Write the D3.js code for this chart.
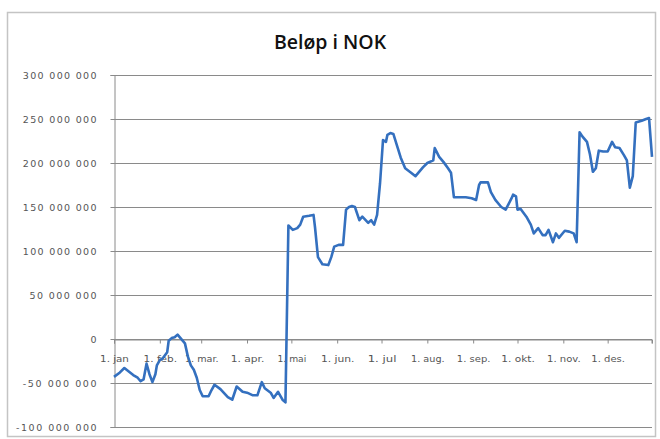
<!DOCTYPE html>
<html><head><meta charset="utf-8">
<script src="https://cdn.jsdelivr.net/npm/d3@7"></script>
<style>html,body{margin:0;padding:0;background:#fff}</style>
</head><body>
<svg id="chart" width="660" height="439"></svg>
<script>
const title = "Beløp i NOK";
const dates = ["01-01","01-05","01-08","01-11","01-14","01-17","01-19","01-21","01-23","01-25","01-27","01-29","01-30",
"02-01","02-03","02-06","02-07","02-09","02-11","02-13","02-16","02-18","02-20","02-22","02-24","02-26","02-28",
"03-02","03-06","03-08","03-10","03-14","03-19","03-22","03-25","03-29",
"04-01","04-05","04-08","04-11","04-13","04-17","04-19","04-22","04-25","04-27","04-29",
"05-02","05-05","05-07","05-09","05-13","05-16","05-17","05-19","05-22","05-26","05-28","05-30",
"06-02","06-05","06-07","06-09","06-11","06-13","06-16","06-18","06-22","06-24","06-26","06-28","06-30",
"07-02","07-04","07-05","07-07","07-09","07-12","07-14","07-17","07-21","07-24","07-26","07-29",
"08-01","08-05","08-06","08-09","08-12","08-15","08-17","08-19","08-24","08-27","08-31",
"09-03","09-05","09-06","09-11","09-13","09-16","09-20","09-23","09-27","09-28","09-30",
"10-01","10-03","10-07","10-10","10-12","10-15","10-18","10-20","10-22","10-25","10-27","10-29",
"11-02","11-05","11-08","11-10","11-12","11-14","11-17","11-19","11-21","11-23","11-25","11-28",
"12-01","12-04","12-06","12-09","12-12","12-14","12-16","12-18","12-20","12-24","12-27","12-29","12-31"];
// values in millions NOK
const values = [-43,-38,-33,-37,-41,-44,-48,-46,-28,-40,-49,-40,-30,
-24,-22,-15,-2,1,2,5,-1,-5,-20,-30,-35,-44,-58,
-65,-65,-58,-52,-57,-66,-69,-54,-60,
-61,-64,-64,-49,-56,-61,-67,-60,-69,-72,129,
124,126,130,139,140,141,127,93,85,84,93,105,
107,107,147,150,151,150,135,139,132,135,130,141,177,
226,224,232,234,233,217,206,194,189,185,189,195,
200,203,217,207,201,194,189,161,161,161,160,
158,175,178,178,167,158,150,147,160,164,162,
147,148,139,130,120,126,118,118,124,110,120,115,
123,122,120,110,235,230,224,210,190,194,214,213,
213,224,218,217,209,203,172,185,246,248,250,251,207];
const yTicks = [-100,-50,0,50,100,150,200,250,300];
const monthLabels = ["1. jan","1. feb.","1. mar.","1. apr.","1. mai","1. jun.","1. jul","1. aug.","1. sep.","1. okt.","1. nov.","1. des."];
const year = 2010;

const svg = d3.select("#chart");
const parse = d3.timeParse("%Y-%m-%d");
const data = dates.map((d,i)=>({date: parse(year+"-"+d), v: values[i]}));

const x = d3.scaleTime().domain([new Date(year,0,1), new Date(year,11,31)]).range([114,652]);
const y = d3.scaleLinear().domain([-100,300]).range([427,75]);

const loc = d3.formatLocale({decimal:",", thousands:"\u00a0", grouping:[3], currency:["",""], minus:"-"});
const fmt = loc.format(",.0f");

// chart border
svg.append("rect").attr("x",7.5).attr("y",12.5).attr("width",648).attr("height",424)
  .attr("fill","#fff").attr("stroke","#c4c4c4").attr("stroke-width",1.5);

// title
svg.append("text").attr("x",330).attr("y",49).attr("text-anchor","middle")
  .attr("font-family","'Open Sans', sans-serif").attr("font-weight",600).attr("font-size",19.5)
  .attr("fill","#111").text(title);

// gridlines
svg.append("g").selectAll("line").data(yTicks).join("line")
  .attr("x1",114).attr("x2",652).attr("y1",d=>Math.round(y(d))+0.5).attr("y2",d=>Math.round(y(d))+0.5)
  .attr("stroke","#8a8a8a").attr("stroke-width",1);

// y axis
const yAxis = d3.axisLeft(y).tickValues(yTicks).tickSize(4).tickPadding(14).tickFormat(d=>fmt(d*1e6));
const gy = svg.append("g").attr("transform","translate(114.5,0)").call(yAxis);
gy.select(".domain").attr("stroke","#8a8a8a");
gy.selectAll(".tick line").attr("stroke","#8a8a8a");
gy.selectAll(".tick text").attr("font-family","'DejaVu Sans', sans-serif").attr("font-size",9.5)
  .attr("fill","#555")
  .each(function(){ const n=this.textContent.length; if(n>1){ d3.select(this).attr("textLength",n*6.7).attr("lengthAdjust","spacing"); } });

// x axis at zero
const monthStarts = d3.timeMonth.range(new Date(year,0,1), new Date(year+1,0,1));
const xAxis = d3.axisBottom(x).tickValues(monthStarts).tickSize(4).tickPadding(12)
  .tickFormat((d,i)=>monthLabels[i]);
const gx = svg.append("g").attr("transform","translate(0,"+(Math.round(y(0))+0.5)+")").call(xAxis);
gx.select(".domain").attr("stroke","#8a8a8a");
gx.selectAll(".tick line").attr("stroke","#8a8a8a");
gx.selectAll(".tick text").attr("font-family","'DejaVu Sans', sans-serif").attr("font-size",9.5)
  .attr("fill","#555")
  .each(function(){ const n=this.textContent.length; d3.select(this).attr("textLength",n*4.8).attr("lengthAdjust","spacingAndGlyphs"); });
gx.append("line").attr("x1",652).attr("x2",652).attr("y1",0).attr("y2",4).attr("stroke","#8a8a8a");

// line
const line = d3.line().x(d=>x(d.date)).y(d=>y(d.v));
svg.append("path").datum(data).attr("d",line).attr("fill","none")
  .attr("stroke","#3470bf").attr("stroke-width",2.6).attr("stroke-linejoin","round");
</script>
</body></html>
